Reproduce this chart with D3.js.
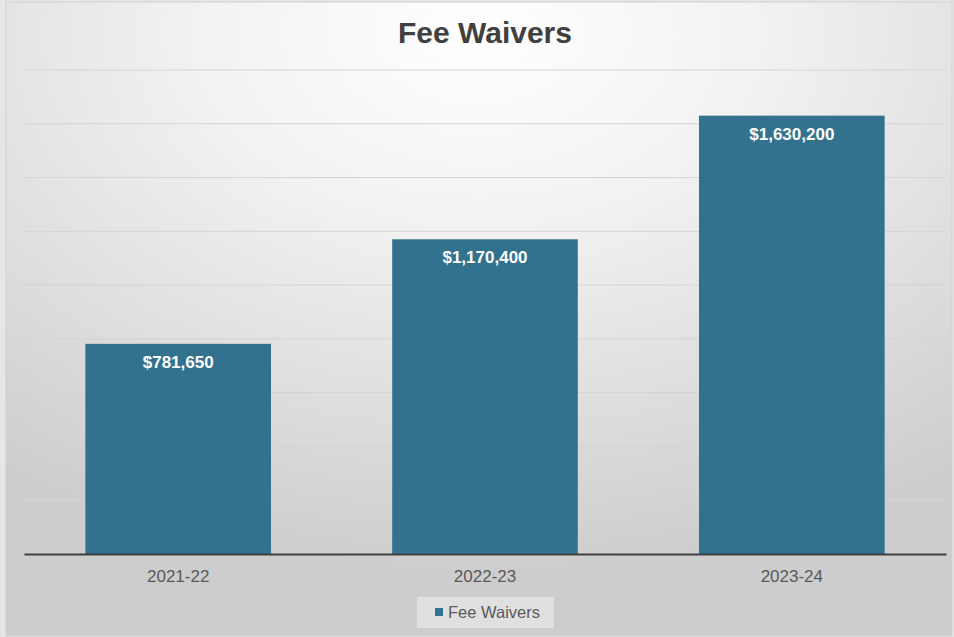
<!DOCTYPE html>
<html>
  <head>
    <title>Fee Waivers</title>
    <script src="https://d3js.org/d3.v7.min.js"></script>
    <style>
      body { margin: 0; background: #e6e6e6; }
      svg { display: block; font-family: "Liberation Sans", Arial, sans-serif; }
    </style>
  </head>
  <body>
    <script>
      const years = ['2021-22', '2022-23', '2023-24'];
      const waivers = [781650, 1170400, 1630200];
      const gridTicks = [200000, 400000, 600000, 800000, 1000000, 1200000, 1400000, 1600000, 1800000];
      const seriesName = 'Fee Waivers';

      const w = 954;
      const h = 637;
      const plotLeft = 24, plotRight = 946, plotTop = 70, plotBottom = 554;

      const svg = d3.select('body')
                    .append('svg')
                    .attr('width', w)
                    .attr('height', h);

      const defs = svg.append('defs');
      const grad = defs.append('radialGradient')
                       .attr('id', 'bg')
                       .attr('cx', '50%').attr('cy', '5%')
                       .attr('r', '85%');
      grad.append('stop').attr('offset', '0%').attr('stop-color', '#ffffff');
      grad.append('stop').attr('offset', '35%').attr('stop-color', '#f2f2f2');
      grad.append('stop').attr('offset', '100%').attr('stop-color', '#cdcdcd');

      svg.append('rect')
         .attr('x', 6).attr('y', 2)
         .attr('width', w - 8).attr('height', h - 3)
         .attr('fill', 'url(#bg)')
         .attr('stroke', '#d0d0d0');

      const xScale = d3.scaleBand()
                       .domain(years)
                       .range([plotLeft, plotRight])
                       .paddingInner(0.395)
                       .paddingOuter(0.2);

      const yScale = d3.scaleLinear()
                       .domain([0, 1800000])
                       .range([plotBottom, plotTop]);

      // gridlines
      svg.append('g')
         .selectAll('line')
         .data(gridTicks)
         .join('line')
         .attr('x1', plotLeft).attr('x2', plotRight)
         .attr('y1', d => yScale(d)).attr('y2', d => yScale(d))
         .attr('stroke', '#d4d4d4')
         .attr('stroke-width', 1);

      svg.append('g')
         .selectAll('rect')
         .data(waivers)
         .join('rect')
         .attr('x', (d, i) => xScale(years[i]))
         .attr('y', d => yScale(d))
         .attr('width', xScale.bandwidth())
         .attr('height', d => plotBottom - yScale(d))
         .attr('fill', '#33728f');

      svg.append('g')
         .selectAll('text')
         .data(waivers)
         .join('text')
         .attr('x', (d, i) => xScale(years[i]) + xScale.bandwidth() / 2)
         .attr('y', d => yScale(d) + 24)
         .attr('text-anchor', 'middle')
         .attr('fill', '#ffffff')
         .attr('font-size', 17)
         .attr('font-weight', 'bold')
         .text(d => '$' + d3.format(',')(d));

      const xAxis = d3.axisBottom(xScale).tickSize(0).tickPadding(16);
      const gx = svg.append('g')
                    .attr('transform', `translate(0, ${plotBottom})`)
                    .call(xAxis);
      gx.select('.domain').attr('stroke', '#404040').attr('stroke-width', 2);
      gx.selectAll('text')
        .attr('font-size', 17)
        .attr('fill', '#595959')
        .attr('font-family', '"Liberation Sans", Arial, sans-serif');

      svg.append('text')
         .attr('x', 485)
         .attr('y', 43)
         .attr('text-anchor', 'middle')
         .attr('font-size', 30)
         .attr('font-weight', 'bold')
         .attr('fill', '#404040')
         .text(seriesName);

      // legend
      const legend = svg.append('g');
      legend.append('rect')
            .attr('x', 417).attr('y', 597)
            .attr('width', 137).attr('height', 31)
            .attr('fill', '#e0e0e0');
      legend.append('rect')
            .attr('x', 435).attr('y', 608)
            .attr('width', 8).attr('height', 8)
            .attr('fill', '#2f7596');
      legend.append('text')
            .attr('x', 448).attr('y', 618)
            .attr('font-size', 16.5)
            .attr('fill', '#595959')
            .text(seriesName);
    </script>
  </body>
</html>
